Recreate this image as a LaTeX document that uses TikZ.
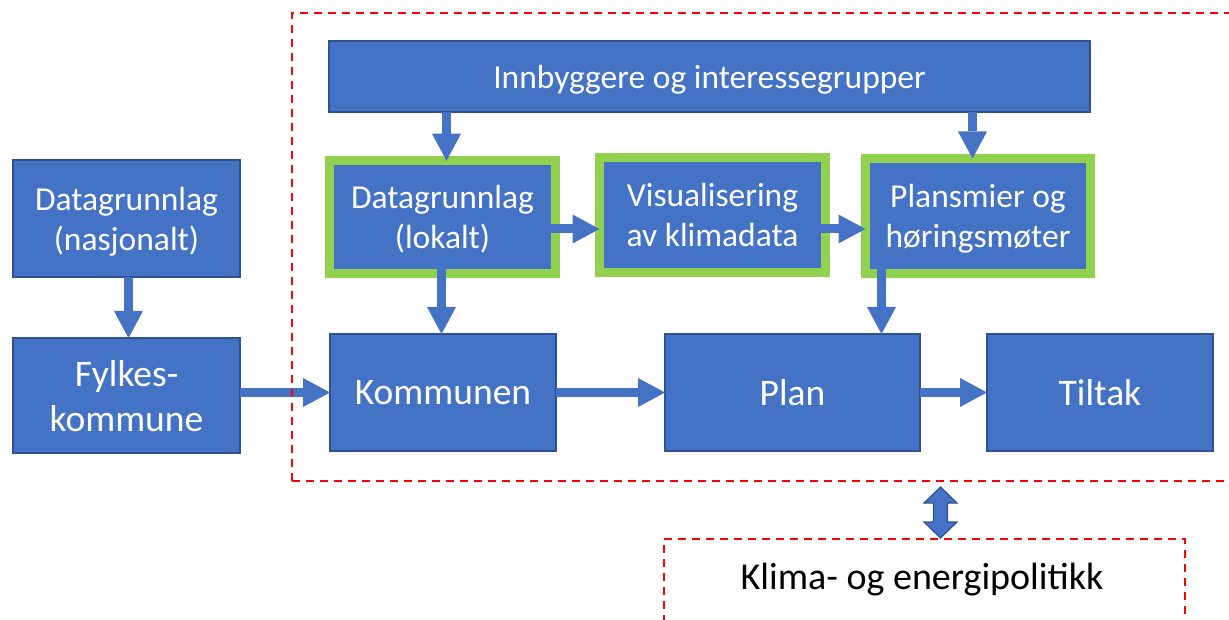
\documentclass[tikz,border=0pt]{standalone}
\usepackage{fontspec}
\setmainfont{Carlito}
\usetikzlibrary{arrows.meta,calc}
\definecolor{boxblue}{HTML}{4472C4}
\definecolor{boxline}{HTML}{2F528F}
\definecolor{frgreen}{HTML}{92D050}
\definecolor{dashred}{HTML}{FF0000}
\begin{document}
\begin{tikzpicture}[x=1pt,y=-1pt,
 box/.style={draw=boxline, line width=1.5pt, fill=boxblue, text=white, align=center,
   inner sep=0pt, outer sep=0pt, text depth=0pt, font=\fontsize{33.5}{40}\selectfont},
 bigtxt/.style={font=\fontsize{37.5}{45}\selectfont},
 gbox/.style={box, draw=frgreen, line width=9pt},
 barrow/.style={draw=boxblue, line width=9pt, -{Triangle[width=29pt,length=27pt,line width=0pt]}},
 reddash/.style={draw=dashred, line width=2pt, dash pattern=on 8pt off 6pt, inner sep=0pt, outer sep=0pt},
 dblarrow/.style={draw=boxline, line width=1.2pt, fill=boxblue, line join=miter}
]
\useasboundingbox (0,0) rectangle (1229,620);
\fill[white] (0,0) rectangle (1229,620);
\clip (0,0) rectangle (1229,620);

% boxes
\node[box, minimum width=227pt, minimum height=117pt] (nas) at (126.5,218.5) {Datagrunnlag\\(nasjonalt)};
\node[box, bigtxt, minimum width=227pt, minimum height=115pt] (fylk) at (126.5,395.5) {Fylkes-\\kommune};
\node[box, minimum width=761pt, minimum height=71pt] (innb) at (709.5,76.5) {Innbyggere og interessegrupper};
\node[gbox, minimum width=226pt, minimum height=112.5pt] (lok) at (442.5,217) {Datagrunnlag\\(lokalt)};
\node[gbox, minimum width=226pt, minimum height=115pt] (vis) at (712.5,215) {Visualisering\\av klimadata};
\node[gbox, minimum width=225pt, minimum height=115pt] (pla) at (978,216) {Plansmier og\\høringsmøter};
\node[box, bigtxt, minimum width=226pt, minimum height=117pt] (kom) at (443,392.5) {Kommunen};
\node[box, bigtxt, minimum width=255pt, minimum height=117pt] (plan) at (792.5,392.5) {Plan};
\node[box, bigtxt, minimum width=226pt, minimum height=117pt] (tilt) at (1100,392.5) {Tiltak};

% connectors
\draw[barrow] ([xshift=2pt]nas.south) -- ([xshift=2pt]fylk.north);
\draw[barrow] (fylk.east |- kom.west) -- (kom.west);
\draw[barrow] (kom.east) -- (plan.west);
\draw[barrow] (plan.east) -- (tilt.west);
\draw[barrow] ([xshift=4pt]lok.north |- innb.south) -- ([xshift=4pt]lok.north);
\draw[barrow] ([xshift=-5.5pt]pla.north |- innb.south) -- ([xshift=-5.5pt]pla.north);
\draw[barrow] ([xshift=-4.5pt,yshift=-12pt]lok.east) -- ([yshift=-12pt]lok.east -| vis.west);
\draw[barrow] ([xshift=-4.5pt,yshift=-14pt]vis.east) -- ([yshift=-14pt]vis.east -| pla.west);
\draw[barrow] ([xshift=-1pt,yshift=4.5pt]lok.south) -- ([xshift=-1pt]lok.south |- kom.north);
\draw[barrow] ([xshift=16pt,yshift=4.5pt]pla.south west) -- ([xshift=16pt]pla.south west |- plan.north);

% dashed frames
\node[reddash, minimum width=950pt, minimum height=468pt, anchor=north west] (frame) at (292,13) {};
\node[reddash, minimum width=521pt, minimum height=100pt, anchor=north west] (klima) at (664,539) {};
\node[font=\fontsize{38}{45}\selectfont] (klimatxt) at (922,580) {Klima- og energipolitikk};

% double arrow between frame and klima
\coordinate (dbl) at (940.5,512.5);
\draw[dblarrow] ([shift={(0,-25.5)}]dbl) -- ++(16.5,16) -- ++(-9.5,0) -- ++(0,19) -- ++(9.5,0)
  -- ++(-16.5,16) -- ++(-16.5,-16) -- ++(9.5,0) -- ++(0,-19) -- ++(-9.5,0) -- cycle;
\end{tikzpicture}
\end{document}
